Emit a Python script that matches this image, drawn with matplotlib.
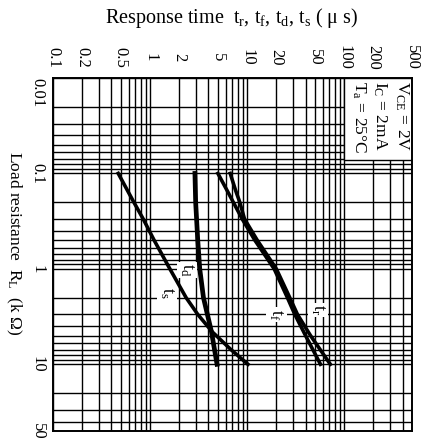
import matplotlib
matplotlib.use("Agg")
import matplotlib.pyplot as plt
from matplotlib.patches import Rectangle

plt.rcParams["font.family"] = ["Liberation Serif", "DejaVu Serif"]
plt.rcParams["mathtext.fontset"] = "custom"
plt.rcParams["mathtext.rm"] = "Liberation Serif"
plt.rcParams["mathtext.it"] = "Liberation Serif:italic"

# Load resistance R_L (kOhm) and response times (us)
rl_s = [0.1, 0.2, 0.3, 0.5, 1, 2, 3, 4.6, 7, 10]
t_s = [0.47, 0.68, 0.85, 1.1, 1.6, 2.35, 3.1, 4.4, 6.8, 10.2]

rl_d = [0.1, 0.2, 0.5, 1, 2, 4.6, 10]
t_d = [2.9, 2.95, 3.1, 3.25, 3.55, 4.3, 4.9]

rl_f = [0.1, 0.15, 0.2, 0.3, 0.5, 1, 2, 3, 5, 10]
t_f = [5.0, 6.2, 7.2, 8.9, 12, 19, 26, 31, 40, 57]

rl_r = [0.1, 0.15, 0.2, 0.3, 0.5, 1, 2, 3, 5, 10]
t_r = [6.7, 7.6, 8.4, 9.4, 12.7, 20, 27.5, 33, 45, 72]

time_ticks = [0.1, 0.2, 0.5, 1, 2, 5, 10, 20, 50, 100, 200, 500]
time_labels = ["0.1", "0.2", "0.5", "1", "2", "5", "10", "20", "50", "100", "200", "500"]
rl_ticks = [0.01, 0.1, 1, 10, 50]
rl_labels = ["0.01", "0.1", "1", "10", "50"]

W, H = 427, 441
fig = plt.figure(figsize=(W / 100, H / 100), dpi=100)
ax = fig.add_axes([53 / W, 10 / H, 359 / W, 353 / H])

ax.set_xscale("log")
ax.set_yscale("log")
ax.set_xlim(0.1, 500)
ax.set_ylim(50, 0.01)

ax.grid(True, which="both", color="black", linewidth=1.0)
ax.set_axisbelow(True)
for sp in ax.spines.values():
    sp.set_linewidth(1.4)

ax.xaxis.tick_top()
ax.set_xticks(time_ticks)
ax.set_xticklabels(time_labels, rotation=270, va="center", ha="center", fontsize=12)
ax.set_yticks(rl_ticks)
ax.set_yticklabels(rl_labels, rotation=270, va="center", ha="center", fontsize=12)
ax.tick_params(axis="both", which="both", length=0)
ax.tick_params(axis="x", pad=15)
ax.tick_params(axis="y", pad=11)
ax.get_yticklabels()[0].set_va("top")

# Condition box
ax.add_patch(Rectangle((100, 0.01), 400, 0.062, facecolor="white",
                       edgecolor="black", linewidth=1.0, zorder=2))
cond = [(395, r"V$_{\mathrm{CE}}$ = 2V"), (235, r"I$_{\mathrm{C}}$ = 2mA"),
        (140, r"T$_{\mathrm{a}}$ = 25°C")]
for xpos, txt in cond:
    ax.text(xpos, 0.0108, txt, rotation=270, ha="center", va="top",
            fontsize=12.5, zorder=3)

lw = 2.6
ax.plot(t_s, rl_s, color="black", linewidth=lw, zorder=4)
ax.plot(t_d, rl_d, color="black", linewidth=lw + 0.8, zorder=4)
ax.plot(t_f, rl_f, color="black", linewidth=lw, zorder=4)
ax.plot(t_r, rl_r, color="black", linewidth=lw, zorder=4)

box = dict(facecolor="white", edgecolor="none", pad=1.0)
ax.text(2.4, 1.03, r"t$_{\mathrm{d}}$", rotation=270, ha="center", va="center",
        fontsize=13, bbox=box, zorder=3)
ax.text(1.5, 1.8, r"t$_{\mathrm{s}}$", rotation=270, ha="center", va="center",
        fontsize=13, bbox=box, zorder=3)
ax.text(20, 3.0, r"t$_{\mathrm{f}}$", rotation=270, ha="center", va="center",
        fontsize=13, bbox=box, zorder=3)
ax.text(54, 2.7, r"t$_{\mathrm{r}}$", rotation=270, ha="center", va="center",
        fontsize=13, bbox=box, zorder=3)

fig.text(232 / W, 1 - 18 / H,
         r"Response time  t$_{\mathrm{r}}$, t$_{\mathrm{f}}$, t$_{\mathrm{d}}$, t$_{\mathrm{s}}$ ( μ s)",
         ha="center", va="center", fontsize=14.5)
fig.text(14 / W, 1 - 243 / H,
         r"Load resistance  R$_{\mathrm{L}}$  (k Ω)",
         rotation=270, ha="center", va="center", fontsize=12.5)

fig.savefig("out.png", dpi=100)
